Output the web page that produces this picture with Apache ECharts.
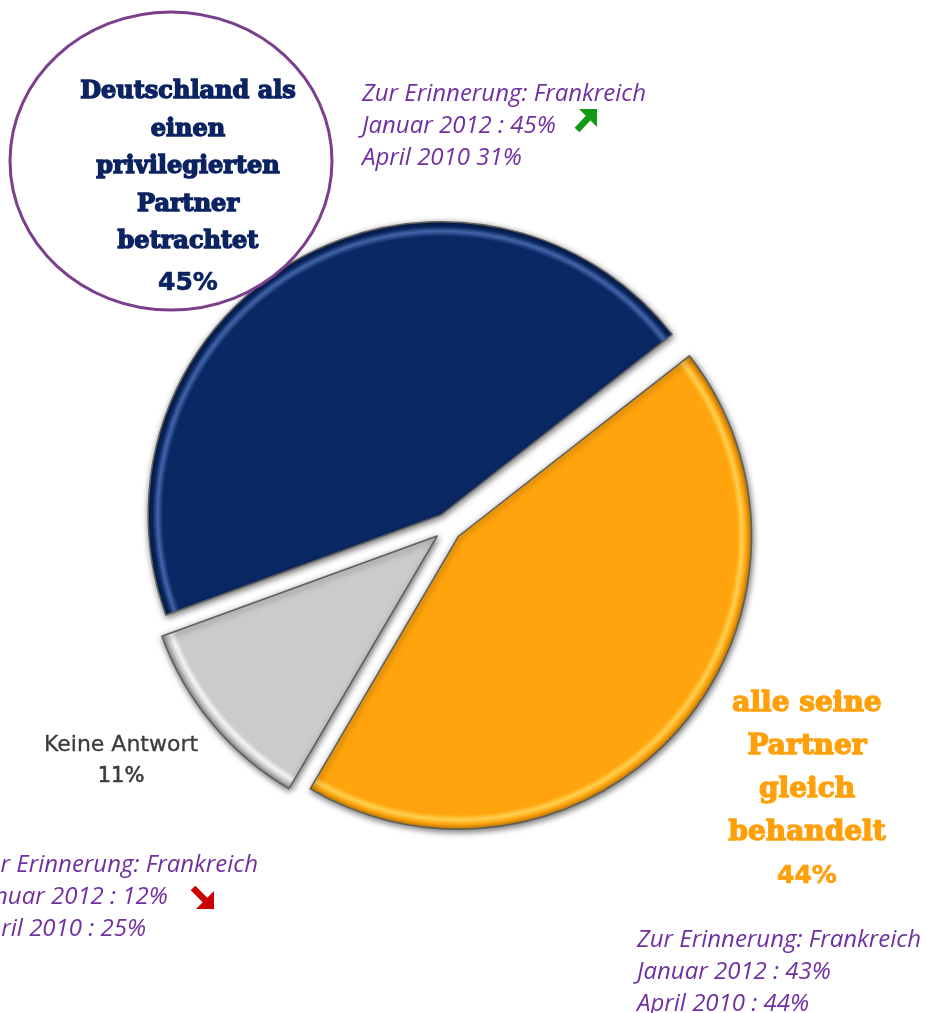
<!DOCTYPE html>
<html><head><meta charset="utf-8">
<script src="https://cdn.jsdelivr.net/npm/echarts@6/dist/echarts.min.js"></script>
<style>html,body{margin:0;padding:0;background:#fff}#c{width:926px;height:1013px}</style>
</head><body><div id="c"></div>
<script>
// ---- data ----
const categories = ['alle seine\nPartner\ngleich\nbehandelt', 'Keine Antwort', 'Deutschland als\neinen\nprivilegierten\nPartner\nbetrachtet'];
const values = [44, 11, 45];
const reminderPrivileged = ['Zur Erinnerung: Frankreich', 'Januar 2012 : 45%', 'April 2010 31%'];
const reminderNoAnswer = ['Zur Erinnerung: Frankreich', 'Januar 2012 : 12%', 'April 2010 : 25%'];
const reminderEqual = ['Zur Erinnerung: Frankreich', 'Januar 2012 : 43%', 'April 2010 : 44%'];

// ---- styles ----
const center = [448, 527];
const radius = 293;
const slicePalette = [
  { base: '#ffa40c', hi: '#ffd050', rim: '#c77f00' },
  { base: '#cbcbcb', hi: '#f4f4f4', rim: '#8f8f8f' },
  { base: '#0a2864', hi: '#4466aa', rim: '#061a45' }
];
function sliceFill(p) {
  return {
    type: 'radial', x: center[0], y: center[1], r: radius, global: true,
    colorStops: [
      { offset: 0, color: p.base }, { offset: 0.95, color: p.base },
      { offset: 0.968, color: p.hi }, { offset: 0.984, color: p.base },
      { offset: 1, color: p.rim }
    ]
  };
}
const labelStyles = [
  { x: 807, y: 790,
    t: { fontFamily: 'DejaVu Serif', fontWeight: 'bold', fontSize: 28, lineHeight: 43, fill: '#ffa00a', stroke: '#ffa00a', lineWidth: 1.4 },
    p: { fontFamily: 'DejaVu Sans', fontWeight: 'bold', fontSize: 25, lineHeight: 44, fill: '#ffa00a', stroke: '#ffa00a', lineWidth: 0.6 } },
  { x: 121, y: 761,
    t: { fontFamily: 'DejaVu Sans', fontSize: 22, lineHeight: 31, fill: '#3b3b3b', stroke: '#3b3b3b', lineWidth: 0.3 },
    p: { fontFamily: 'DejaVu Sans', fontSize: 21, lineHeight: 31, fill: '#3b3b3b', stroke: '#3b3b3b', lineWidth: 0.6 } },
  { x: 188, y: 190,
    t: { fontFamily: 'DejaVu Serif', fontWeight: 'bold', fontSize: 24, lineHeight: 37.5, fill: '#0b2361', stroke: '#0b2361', lineWidth: 1.4 },
    p: { fontFamily: 'DejaVu Sans', fontWeight: 'bold', fontSize: 25, lineHeight: 46, fill: '#0b2361', stroke: '#0b2361', lineWidth: 0.6 } }
];

const pieData = values.map((v, i) => ({
  name: categories[i], value: v, selected: true,
  itemStyle: { color: sliceFill(slicePalette[i]) }
}));

const sliceLabels = values.map((v, i) => ({
  type: 'text', x: labelStyles[i].x, y: labelStyles[i].y, z: 30,
  style: {
    text: '{t|' + categories[i] + '}\n{p|' + v + '%}',
    rich: { t: labelStyles[i].t, p: labelStyles[i].p },
    align: 'center', verticalAlign: 'middle'
  }
}));

const purple = '#7030a0';
function reminder(lines, x, y0) {
  return lines.map((s, i) => ({
    type: 'text', x: x, y: y0 + i * 32, z: 20,
    style: { text: s, font: 'italic 24px "Open Sans"', fill: purple, verticalAlign: 'middle', align: 'left' }
  }));
}

const chart = echarts.init(document.getElementById('c'), null, { renderer: 'canvas' });
chart.setOption({
  animation: false,
  backgroundColor: '#ffffff',
  series: [
    {
      type: 'pie', z: 2, center: center, radius: radius, startAngle: 38, clockwise: true,
      selectedMode: 'multiple', selectedOffset: 14,
      label: { show: false }, labelLine: { show: false },
      emphasis: { disabled: true },
      itemStyle: { borderColor: '#5e5e5e', borderWidth: 1.5, shadowBlur: 6, shadowColor: 'rgba(0,0,0,0.55)', shadowOffsetX: 1, shadowOffsetY: 2 },
      data: pieData
    }
  ],
  graphic: [
    { type: 'ellipse', z: 5, shape: { cx: 171, cy: 161, rx: 161, ry: 149 },
      style: { fill: '#ffffff', stroke: '#7b3f8c', lineWidth: 3 } },
    ...sliceLabels,
    ...reminder(reminderPrivileged, 362, 94),
    ...reminder(reminderNoAnswer, -26, 865),
    ...reminder(reminderEqual, 637, 940),
    { type: 'polygon', z: 20, shape: { points: [[579, 109], [597, 109], [597, 127]] },
      style: { fill: '#129a12' } },
    { type: 'line', z: 20, shape: { x1: 591, y1: 115, x2: 577, y2: 130 },
      style: { stroke: '#129a12', lineWidth: 6.5 } },
    { type: 'polygon', z: 20, shape: { points: [[196, 909], [214, 909], [214, 891]] },
      style: { fill: '#cc0000' } },
    { type: 'line', z: 20, shape: { x1: 208, y1: 903, x2: 193, y2: 888 },
      style: { stroke: '#cc0000', lineWidth: 6.5 } }
  ]
});
</script></body></html>
